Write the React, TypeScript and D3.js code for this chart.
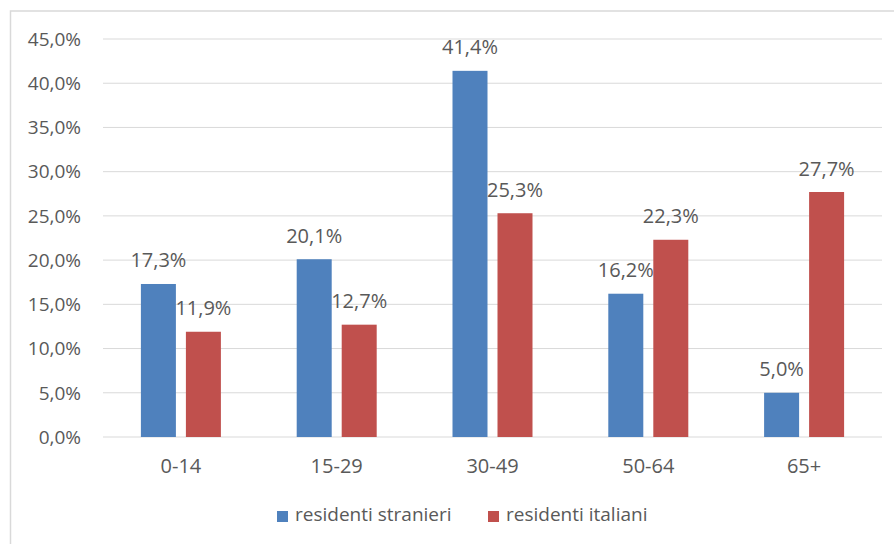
import React from "react";
import * as d3 from "d3";

const categories = ["0-14", "15-29", "30-49", "50-64", "65+"];
const stranieri = [17.3, 20.1, 41.4, 16.2, 5.0];
const italiani = [11.9, 12.7, 25.3, 22.3, 27.7];
const seriesNames = ["residenti stranieri", "residenti italiani"];
const seriesColors = ["#4F81BD", "#C0504D"];
const yTicks = [0, 5, 10, 15, 20, 25, 30, 35, 40, 45];

const fmt = (v: number) => v.toFixed(1).replace(".", ",") + "%";

export default function App() {
  const W = 894, H = 544;
  const left = 103, right = 882, top = 39, bottom = 437;
  const x = d3.scaleBand<string>().domain(categories).range([left, right]).paddingInner(0).paddingOuter(0);
  const y = d3.scaleLinear().domain([0, 45]).range([bottom, top]);
  const barW = 35, gap = 10;
  const font = "'Open Sans', sans-serif";
  const fs = 19;
  const fsLabel = 20;
  const textColor = "#595959";
  const series = [stranieri, italiani];

  return (
    <svg width={W} height={H} style={{ position: "absolute", left: 0, top: 0, background: "#fff" }} fontFamily={font}>
      <rect x={0} y={0} width={W} height={H} fill="#fff" />
      <rect x={10.5} y={11} width={W + 20} height={H + 20} fill="none" stroke="#D9D9D9" strokeWidth={1.5} />
      {yTicks.map((t) => (
        <g key={t}>
          <line x1={left} x2={right} y1={y(t)} y2={y(t)} stroke="#D9D9D9" strokeWidth={1} />
          <text x={81} y={y(t) + 6.8} textAnchor="end" fontSize={fs} fill={textColor}>{fmt(t)}</text>
        </g>
      ))}
      {categories.map((c, i) => {
        const cx = (x(c) as number) + x.bandwidth() / 2;
        return (
          <g key={c}>
            {series.map((s, si) => {
              const bx = cx - gap / 2 - barW + si * (barW + gap);
              const by = y(s[i]);
              return (
                <g key={si}>
                  <rect x={bx} y={by} width={barW} height={bottom - by} fill={seriesColors[si]} />
                  <text x={bx + barW / 2} y={by - 16.5} textAnchor="middle" fontSize={fsLabel} fill={textColor}>{fmt(s[i])}</text>
                </g>
              );
            })}
            <text x={cx} y={473} textAnchor="middle" fontSize={fsLabel} fill={textColor}>{c}</text>
          </g>
        );
      })}
      {seriesNames.map((n, i) => {
        const lx = [277, 488][i];
        return (
          <g key={n}>
            <rect x={lx} y={511} width={11} height={11} fill={seriesColors[i]} />
            <text x={lx + 18} y={521} fontSize={fs} fill={textColor}>{n}</text>
          </g>
        );
      })}
    </svg>
  );
}
